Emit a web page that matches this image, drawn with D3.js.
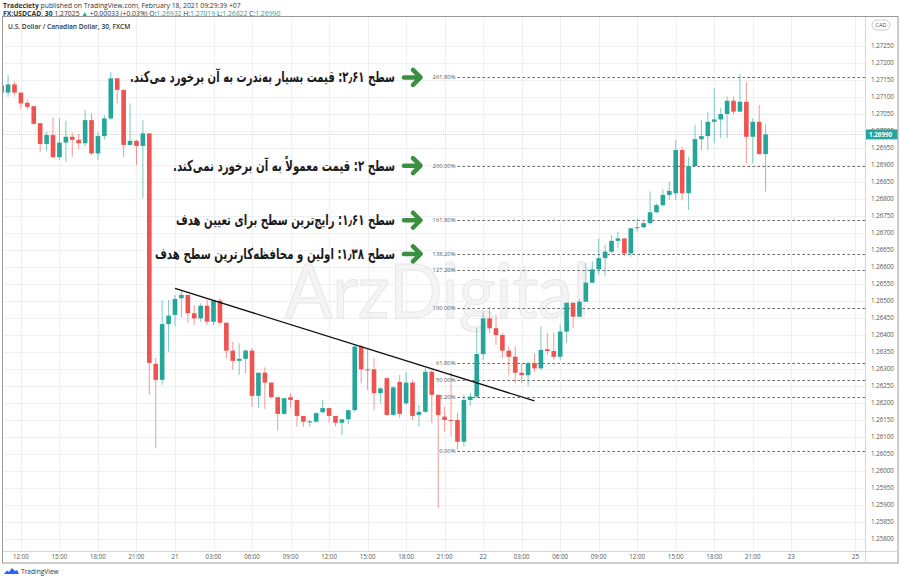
<!DOCTYPE html>
<html><head><meta charset="utf-8">
<script src="https://cdn.jsdelivr.net/npm/d3@7"></script>
<style>
body{margin:0;background:#fff;}
svg{display:block;font-family:"Open Sans","Noto Sans",sans-serif;}
</style>
</head><body>
<svg id="c" width="900" height="580"></svg>
<script>
// ---------- DATA ----------
const firstBar = -27; // bar index of first candle (0 = Jan 21 00:00, 30-min bars)
const opens = [1.27134,1.27113,1.27137,1.27113,1.27083,1.27073,1.27023,1.26962,1.26988,1.26923,
1.26966,1.26983,1.26974,1.26964,1.27032,1.26934,1.26985,1.27037,1.27155,1.27121,
1.26959,1.26971,1.26956,1.26993,1.26315,1.26268,1.26432,1.26459,1.26508,1.26518,
1.26464,1.26449,1.26486,1.26439,1.26501,1.26436,1.26354,1.26324,1.26330,1.26354,
1.26221,1.26289,1.26260,1.26217,1.26168,1.26217,1.26209,1.26162,1.26145,1.26145,
1.26173,1.26185,1.26162,1.26142,1.26152,1.26179,1.26366,1.26299,1.26299,1.26229,
1.26273,1.26165,1.26262,1.26199,1.26260,1.26165,1.26174,1.26292,1.26224,1.26160,
1.26150,1.26150,1.26086,1.26209,1.26219,1.26344,1.26449,1.26420,1.26400,1.26354,
1.26336,1.26289,1.26282,1.26317,1.26302,1.26358,1.26353,1.26336,1.26410,1.26495,
1.26454,1.26498,1.26554,1.26593,1.26626,1.26645,1.26677,1.26684,1.26640,1.26716,
1.26717,1.26729,1.26761,1.26782,1.26812,1.26817,1.26944,1.26817,1.26897,1.26976,
1.26985,1.27027,1.27034,1.27050,1.27089,1.27057,1.27086,1.26983,1.27027,1.26932];
const highs = [1.27144,1.27165,1.27145,1.27113,1.27093,1.27073,1.27023,1.26998,1.27040,1.27037,
1.27030,1.26995,1.26991,1.27062,1.27052,1.26998,1.27047,1.27173,1.27155,1.27121,
1.27081,1.26974,1.27032,1.26993,1.26332,1.26503,1.26503,1.26518,1.26532,1.26518,
1.26488,1.26493,1.26503,1.26503,1.26508,1.26436,1.26380,1.26376,1.26358,1.26361,
1.26289,1.26305,1.26260,1.26217,1.26214,1.26229,1.26209,1.26162,1.26150,1.26174,
1.26209,1.26185,1.26162,1.26152,1.26179,1.26371,1.26371,1.26358,1.26332,1.26246,
1.26273,1.26250,1.26282,1.26291,1.26268,1.26194,1.26303,1.26297,1.26224,1.26189,
1.26292,1.26171,1.26224,1.26230,1.26421,1.26469,1.26483,1.26459,1.26406,1.26366,
1.26366,1.26317,1.26322,1.26346,1.26425,1.26406,1.26407,1.26430,1.26495,1.26495,
1.26505,1.26612,1.26616,1.26684,1.26665,1.26694,1.26704,1.26684,1.26714,1.26744,
1.26733,1.26822,1.26787,1.26829,1.26851,1.26974,1.26953,1.26924,1.27018,1.27032,
1.27057,1.27126,1.27067,1.27101,1.27101,1.27168,1.27145,1.27037,1.27077,1.27019];
const lows = [1.27106,1.27101,1.27106,1.27064,1.27064,1.27018,1.26939,1.26942,1.26920,1.26915,
1.26910,1.26924,1.26946,1.26954,1.26929,1.26915,1.26974,1.27032,1.27081,1.26924,
1.26956,1.26900,1.26802,1.26224,1.26067,1.26253,1.26351,1.26425,1.26452,1.26436,
1.26430,1.26439,1.26430,1.26430,1.26430,1.26332,1.26297,1.26282,1.26287,1.26189,
1.26185,1.26182,1.26214,1.26119,1.26165,1.26187,1.26130,1.26130,1.26130,1.26142,
1.26170,1.26142,1.26132,1.26106,1.26138,1.26174,1.26258,1.26238,1.26179,1.26199,
1.26162,1.26162,1.26156,1.26194,1.26150,1.26130,1.26171,1.26141,1.25891,1.26116,
1.26101,1.26062,1.26072,1.26191,1.26215,1.26327,1.26405,1.26371,1.26332,1.26282,
1.26258,1.26258,1.26250,1.26292,1.26297,1.26341,1.26327,1.26327,1.26376,1.26420,
1.26454,1.26498,1.26552,1.26577,1.26574,1.26640,1.26655,1.26632,1.26630,1.26704,
1.26714,1.26724,1.26758,1.26777,1.26797,1.26797,1.26797,1.26768,1.26895,1.26944,
1.26944,1.26964,1.26979,1.26979,1.27047,1.27057,1.26905,1.26905,1.26932,1.26822];
const closes = [1.27113,1.27137,1.27113,1.27081,1.27071,1.27021,1.26962,1.26988,1.26923,1.26966,
1.26983,1.26974,1.26964,1.27032,1.26934,1.26985,1.27037,1.27155,1.27121,1.26959,
1.26971,1.26956,1.26993,1.26318,1.26268,1.26432,1.26457,1.26506,1.26518,1.26464,
1.26449,1.26486,1.26439,1.26501,1.26436,1.26354,1.26324,1.26330,1.26354,1.26221,
1.26289,1.26260,1.26217,1.26168,1.26214,1.26209,1.26162,1.26145,1.26146,1.26170,
1.26185,1.26162,1.26142,1.26152,1.26179,1.26366,1.26299,1.26297,1.26229,1.26243,
1.26165,1.26246,1.26168,1.26260,1.26162,1.26174,1.26292,1.26224,1.26165,1.26150,
1.26149,1.26086,1.26209,1.26219,1.26344,1.26449,1.26420,1.26400,1.26354,1.26336,
1.26289,1.26282,1.26317,1.26302,1.26356,1.26353,1.26336,1.26410,1.26495,1.26454,
1.26498,1.26554,1.26593,1.26626,1.26645,1.26677,1.26684,1.26640,1.26714,1.26717,
1.26729,1.26761,1.26782,1.26812,1.26824,1.26944,1.26817,1.26897,1.26976,1.26985,
1.27027,1.27034,1.27050,1.27089,1.27057,1.27086,1.26983,1.27027,1.26932,1.26990];

const priceTicks = [1.25800,1.25850,1.25900,1.25950,1.26000,1.26050,1.26100,1.26150,1.26200,1.26250,
1.26300,1.26350,1.26400,1.26450,1.26500,1.26550,1.26600,1.26650,1.26700,1.26750,
1.26800,1.26850,1.26900,1.26950,1.27000,1.27050,1.27100,1.27150,1.27200,1.27250];
const timeTickBars = [-24,-18,-12,-6,0,6,12,18,24,30,36,42,48,54,60,66,72,78,84,90,96,106];
const timeTickLabels = ["12:00","15:00","18:00","21:00","21","03:00","06:00","09:00","12:00","15:00","18:00","21:00","22","03:00","06:00","09:00","12:00","15:00","18:00","21:00","23","25"];

const lastPrice = 1.26990;
const fibLow = 1.26058, fibHigh = 1.26478, fibStartBar = 44;
const fibRatios = [0, 0.382, 0.5, 0.618, 1, 1.272, 1.382, 1.618, 2, 2.618];
const fibLabels = ["0.00%","38.20%","50.00%","61.80%","100.00%","127.20%","138.20%","161.80%","200.00%","261.80%"];
const trendBars = [0, 56];
const trendPrices = [1.26537, 1.26206];

const noteRatios = [2.618, 2, 1.618, 1.382];
const noteTexts = [
  "سطح ۲٫۶۱: قیمت بسیار به‌ندرت به آن برخورد می‌کند.",
  "سطح ۲: قیمت معمولاً به آن برخورد نمی‌کند.",
  "سطح ۱٫۶۱: رایج‌ترین سطح برای تعیین هدف",
  "سطح ۱٫۳۸: اولین و محافظه‌کارترین سطح هدف"
];

// ---------- LAYOUT ----------
const L = 3, R = 865, T = 17, B = 551, OUTR = 898, OUTB = 563;
const UP = "#26a69a", DOWN = "#ef5350";
const noteRight = 395;
const noteWidths = [265, 222, 219, 240];
const svg = d3.select("#c");

const x = d3.scaleLinear().domain([-26.79, 107.48]).range([L, R]);
const y = d3.scaleLinear().domain([1.257647, 1.273353]).range([B, T]);

// header
const h1 = svg.append("text").attr("x", 3).attr("y", 7.5).attr("font-size", 6.8).attr("fill", "#333");
h1.append("tspan").attr("font-weight", "bold").text("Tradeciety");
h1.append("tspan").text(" published on TradingView.com, February 18, 2021 09:29:39 +07");
const h2 = svg.append("text").attr("x", 3).attr("y", 16).attr("font-size", 6.8).attr("fill", "#333");
h2.append("tspan").attr("font-weight", "bold").text("FX:USDCAD, 30");
h2.append("tspan").text(" 1.27025 ");
h2.append("tspan").attr("fill", UP).text("▲");
h2.append("tspan").text(" +0.00033 (+0.03%) O:");
h2.append("tspan").attr("fill", UP).text("1.26932");
h2.append("tspan").text(" H:");
h2.append("tspan").attr("fill", UP).text("1.27019");
h2.append("tspan").text(" L:");
h2.append("tspan").attr("fill", UP).text("1.26822");
h2.append("tspan").text(" C:");
h2.append("tspan").attr("fill", UP).text("1.26990");

// clip
svg.append("defs").append("clipPath").attr("id", "plot")
  .append("rect").attr("x", L).attr("y", T).attr("width", R - L).attr("height", B - T);

// grid
const grid = svg.append("g").attr("stroke", "#eef0f4").attr("stroke-width", 1);
grid.selectAll("line.h").data(priceTicks).join("line")
  .attr("x1", L).attr("x2", R).attr("y1", d => Math.round(y(d)) + 0.5).attr("y2", d => Math.round(y(d)) + 0.5);
grid.selectAll("line.v").data(timeTickBars).join("line")
  .attr("y1", T).attr("y2", B).attr("x1", d => Math.round(x(d)) + 0.5).attr("x2", d => Math.round(x(d)) + 0.5);

// watermark
svg.append("text").attr("x", 437).attr("y", 318).attr("text-anchor", "middle")
  .attr("font-family", "Lato, Inter, sans-serif").attr("font-size", 76).attr("font-weight", 400)
  .attr("textLength", 305).attr("lengthAdjust", "spacingAndGlyphs")
  .attr("fill", "#f4f4f4").attr("stroke", "#e6e6e6").attr("stroke-width", 1)
  .text("ArzDigital");

const plot = svg.append("g").attr("clip-path", "url(#plot)");

// current price line
plot.append("line").attr("x1", L).attr("x2", R)
  .attr("y1", Math.round(y(lastPrice)) + 0.5).attr("y2", Math.round(y(lastPrice)) + 0.5)
  .attr("stroke", UP).attr("stroke-opacity", 0.35).attr("stroke-dasharray", "1,1");

// fib levels
const fibs = fibRatios.map((r, k) => ({ p: fibLow + r * (fibHigh - fibLow), label: fibLabels[k] }));
plot.selectAll("line.fib").data(fibs).join("line")
  .attr("x1", x(fibStartBar)).attr("x2", R)
  .attr("y1", d => Math.round(y(d.p)) + 0.5).attr("y2", d => Math.round(y(d.p)) + 0.5)
  .attr("stroke", "#666").attr("stroke-width", 1).attr("stroke-dasharray", "2.5,2.5");
plot.selectAll("text.fib").data(fibs).join("text")
  .attr("x", x(fibStartBar) - 2).attr("y", d => y(d.p) + 2).attr("text-anchor", "end")
  .attr("font-size", 5.8).attr("fill", "#555").text(d => d.label);

// candles
const bars = opens.map((o, k) => ({ i: firstBar + k, o, h: highs[k], l: lows[k], c: closes[k] }));
const bw = (x(1) - x(0)) * 0.72;
plot.selectAll("line.wick").data(bars).join("line")
  .attr("x1", d => x(d.i)).attr("x2", d => x(d.i))
  .attr("y1", d => y(d.h)).attr("y2", d => y(d.l))
  .attr("stroke", d => d.c >= d.o ? UP : DOWN).attr("stroke-opacity", 0.6).attr("stroke-width", 1);
plot.selectAll("rect.body").data(bars).join("rect")
  .attr("x", d => x(d.i) - bw / 2).attr("width", bw)
  .attr("y", d => y(Math.max(d.o, d.c)))
  .attr("height", d => Math.max(1, Math.abs(y(d.o) - y(d.c))))
  .attr("fill", d => d.c >= d.o ? UP : DOWN);

// trend line
plot.append("line")
  .attr("x1", x(trendBars[0])).attr("y1", y(trendPrices[0]))
  .attr("x2", x(trendBars[1])).attr("y2", y(trendPrices[1]))
  .attr("stroke", "#111").attr("stroke-width", 1.3);

// annotations (right-to-left Persian text, right edge at noteRight)
const notes = noteRatios.map((r, k) => ({ p: fibLow + r * (fibHigh - fibLow), t: noteTexts[k], w: noteWidths[k] }));
const ng = svg.append("g");
ng.selectAll("text").data(notes).join("text")
  .attr("x", noteRight).attr("y", d => y(d.p) + 5)
  .attr("direction", "rtl").attr("text-anchor", "start")
  .attr("textLength", d => d.w).attr("lengthAdjust", "spacingAndGlyphs")
  .attr("font-family", "'DejaVu Sans', sans-serif").attr("font-weight", "bold")
  .attr("font-size", 15).attr("fill", "#1b1b1b").text(d => d.t);
const arrows = ng.selectAll("g.arrow").data(notes).join("g")
  .attr("transform", d => `translate(0,${y(d.p)})`)
  .attr("stroke", "#3b8f3e").attr("stroke-width", 4.5).attr("stroke-linecap", "round")
  .attr("stroke-linejoin", "round").attr("fill", "none");
arrows.append("line").attr("x1", 404).attr("x2", 420).attr("y1", 0).attr("y2", 0);
arrows.append("polyline").attr("points", "413,-7.5 420.5,0 413,7.5");

// frame & axes
svg.append("rect").attr("x", 2.5).attr("y", 16.5).attr("width", OUTR - 2.5).attr("height", OUTB - 16.5)
  .attr("fill", "none").attr("stroke", "#999");
svg.append("line").attr("x1", R + 0.5).attr("x2", R + 0.5).attr("y1", T).attr("y2", OUTB).attr("stroke", "#d6d6d6");
svg.append("line").attr("x1", L).attr("x2", OUTR).attr("y1", B + 0.5).attr("y2", B + 0.5).attr("stroke", "#d6d6d6");

svg.append("text").attr("x", 8).attr("y", 28.5).attr("font-size", 6.6).attr("font-weight", 600)
  .attr("fill", "#333").text("U.S. Dollar / Canadian Dollar, 30, FXCM");

// y axis labels
svg.append("g").selectAll("text").data(priceTicks).join("text")
  .attr("x", 871).attr("y", d => y(d) + 2.2).attr("font-size", 6.2).attr("fill", "#555")
  .text(d => d.toFixed(5));
// CAD badge
svg.append("rect").attr("x", 872).attr("y", 20).attr("width", 18).attr("height", 10).attr("rx", 5)
  .attr("fill", "#fff").attr("stroke", "#bbb").attr("stroke-width", 0.8);
svg.append("text").attr("x", 881).attr("y", 27).attr("text-anchor", "middle").attr("font-size", 5.8)
  .attr("fill", "#555").text("CAD");
// last price badge
svg.append("rect").attr("x", R + 1).attr("y", y(lastPrice) - 5).attr("width", OUTR - R - 1.5).attr("height", 10)
  .attr("fill", UP);
svg.append("text").attr("x", 869).attr("y", y(lastPrice) + 2.3).attr("font-size", 6.2).attr("font-weight", "bold")
  .attr("fill", "#fff").text(lastPrice.toFixed(5));

// x axis labels
svg.append("g").selectAll("text").data(timeTickBars).join("text")
  .attr("x", d => x(d)).attr("y", 558.5).attr("text-anchor", "middle")
  .attr("font-size", 6.2).attr("fill", "#555").text((d, k) => timeTickLabels[k]);

// TradingView logo
const logo = svg.append("g").attr("transform", "translate(4,567)");
logo.append("path").attr("d", "M0,7 L3,3.5 L5,5 L8,1 L11,4 L13,3 L15,7 Z").attr("fill", "#2962ff");
svg.append("text").attr("x", 21).attr("y", 574).attr("font-size", 6.6).attr("fill", "#333").text("TradingView");
</script>
</body></html>
